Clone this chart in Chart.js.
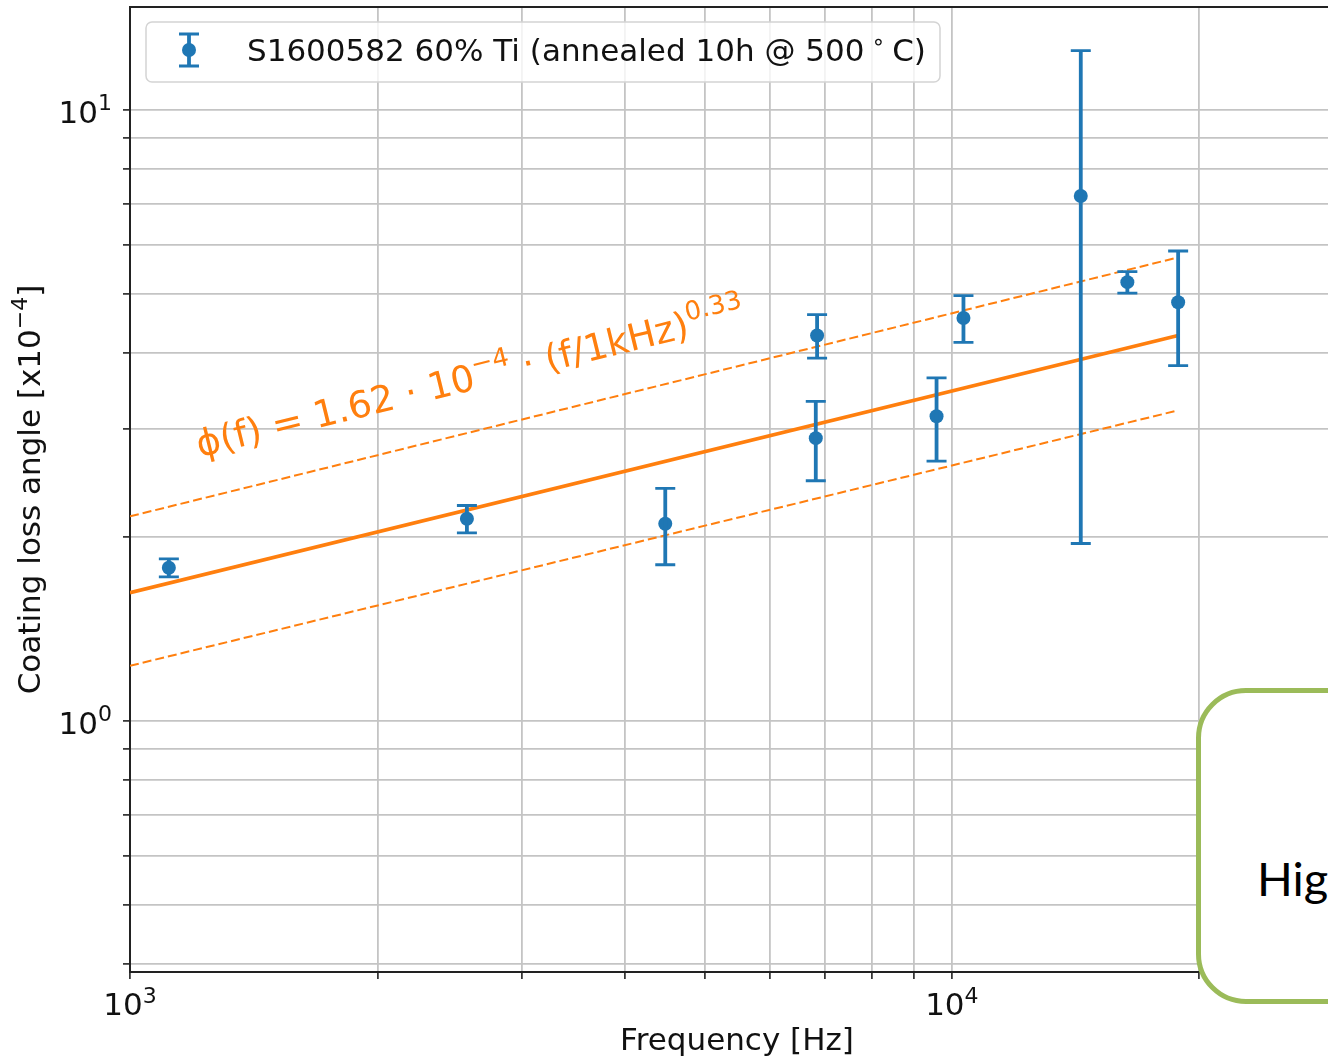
<!DOCTYPE html>
<html>
<head>
<meta charset="utf-8">
<title>Coating loss angle vs frequency</title>
<script src="https://cdn.jsdelivr.net/npm/chart.js@4.4.1/dist/chart.umd.min.js"></script>
<style>
  html, body { margin: 0; padding: 0; background: #fff; overflow: hidden; }
  #wrap { position: relative; width: 1328px; height: 1056px; overflow: hidden; }
  #lossChart { position: absolute; left: 0; top: 0; }
  .callout {
    position: absolute; left: 1196px; top: 688px; width: 320px; height: 316px;
    box-sizing: border-box; border: 5px solid #9bbb59; border-radius: 50px;
    background: #fff; font-family: Lato, "Open Sans", sans-serif; font-size: 47px; color: #000;
  }
  .callout span { position: absolute; left: 56px; top: 162px; line-height: 47px; white-space: nowrap; }
</style>
</head>
<body>
<div id="wrap">
  <canvas id="lossChart" width="1360" height="1056"></canvas>
  <div class="callout"><span>Hig</span></div>
</div>
<script>
// measured loss angles (x1e-4) with 1-sigma errors
const freqHz    = [1115, 2570, 4480, 6855, 6830, 9580, 10330, 14350, 16350, 18850];
const lossAngle = [1.78, 2.14, 2.10, 4.27, 2.90, 3.15, 4.56, 7.22, 5.22, 4.84];
const lossErr   = [0.06, 0.11, 0.30, 0.35, 0.43, 0.49, 0.40, 5.27, 0.21, 1.03];

// power-law fit phi(f) = 1.62e-4 * (f/1kHz)^0.33 and its band
const fitAmp = 1.62;
const fitExp = 0.33;
const fitFreq   = [1000, 18850];
const bandUpper = [2.16, 5.73];
const bandLower = [1.23, 3.22];

const xTicks = [1000, 2000, 3000, 4000, 5000, 6000, 7000, 8000, 9000, 10000, 20000, 30000];
const yTicks = [0.4, 0.5, 0.6, 0.7, 0.8, 0.9, 1, 2, 3, 4, 5, 6, 7, 8, 9, 10];
const xDecades = [[1000, '3'], [10000, '4']];
const yDecades = [[1, '0'], [10, '1']];

const BLUE = '#1f77b4';
const ORANGE = '#ff7f0e';
const INK = '#111';
const FONT = '"DejaVu Sans"';

const fitLoss = fitFreq.map(f => fitAmp * Math.pow(f / 1000, fitExp));

// draws a run of text pieces, some of them raised as exponents
function drawRun(ctx, parts, x, y, align) {
  let total = 0;
  parts.forEach(p => {
    ctx.font = p.size + 'px ' + FONT;
    p.w = ctx.measureText(p.text).width;
    total += p.w;
  });
  let cx = align === 'center' ? x - total / 2 : align === 'right' ? x - total : x;
  ctx.textAlign = 'left';
  ctx.textBaseline = 'alphabetic';
  parts.forEach(p => {
    ctx.font = p.size + 'px ' + FONT;
    ctx.fillText(p.text, cx, y - (p.rise || 0));
    cx += p.w;
  });
  return total;
}

const errorBars = {
  id: 'errorBars',
  afterDatasetsDraw(chart) {
    const { ctx, scales: { x, y } } = chart;
    ctx.save();
    ctx.strokeStyle = BLUE;
    freqHz.forEach((f, i) => {
      const px = x.getPixelForValue(f);
      const top = y.getPixelForValue(lossAngle[i] + lossErr[i]);
      const bot = y.getPixelForValue(lossAngle[i] - lossErr[i]);
      ctx.lineWidth = 3.8;
      ctx.beginPath();
      ctx.moveTo(px, top);
      ctx.lineTo(px, bot);
      ctx.stroke();
      ctx.lineWidth = 2.8;
      ctx.beginPath();
      ctx.moveTo(px - 10, top); ctx.lineTo(px + 10, top);
      ctx.moveTo(px - 10, bot); ctx.lineTo(px + 10, bot);
      ctx.stroke();
    });
    ctx.restore();
  }
};

const decorations = {
  id: 'decorations',
  afterDraw(chart) {
    const { ctx, chartArea: area, scales: { x, y } } = chart;
    ctx.save();

    // top spine
    ctx.strokeStyle = '#222';
    ctx.lineWidth = 2;
    ctx.beginPath();
    ctx.moveTo(area.left - 1, area.top);
    ctx.lineTo(area.right, area.top);
    ctx.stroke();

    ctx.fillStyle = INK;
    // decade tick labels
    xDecades.forEach(([v, e]) => {
      drawRun(ctx, [{ text: '10', size: 31 }, { text: e, size: 22, rise: 12 }],
        x.getPixelForValue(v), area.bottom + 43, 'center');
    });
    yDecades.forEach(([v, e]) => {
      const py = y.getPixelForValue(v);
      drawRun(ctx, [{ text: '10', size: 31 }, { text: e, size: 22, rise: 13 }],
        area.left - 18, py + 13, 'right');
    });

    // axis titles
    drawRun(ctx, [{ text: 'Frequency [Hz]', size: 31 }], (area.left + area.right) / 2, 1050, 'center');
    ctx.save();
    ctx.translate(40, (area.top + area.bottom) / 2);
    ctx.rotate(-Math.PI / 2);
    drawRun(ctx, [
      { text: 'Coating loss angle [x10', size: 31 },
      { text: '\u22124', size: 22, rise: 13 },
      { text: ']', size: 31 }
    ], 0, 0, 'center');
    ctx.restore();

    // fit formula, laid along the fit line
    const x0 = x.getPixelForValue(fitFreq[0]), y0 = y.getPixelForValue(fitLoss[0]);
    const x1 = x.getPixelForValue(fitFreq[1]), y1 = y.getPixelForValue(fitLoss[1]);
    ctx.save();
    ctx.fillStyle = ORANGE;
    ctx.translate(x.getPixelForValue(1215), y.getPixelForValue(2.70));
    ctx.rotate(Math.atan2(y1 - y0, x1 - x0));
    drawRun(ctx, [
      { text: '\u03d5(f) = 1.62 \u00b7 10', size: 37 },
      { text: '\u22124', size: 26, rise: 16 },
      { text: ' \u00b7 (f/1kHz)', size: 37 },
      { text: '0.33', size: 26, rise: 16 }
    ], 0, 0, 'left');
    ctx.restore();

    // legend box
    const lx = area.left + 16, ly = area.top + 15, lw = 794, lh = 60;
    ctx.beginPath();
    ctx.roundRect(lx, ly, lw, lh, 6);
    ctx.fillStyle = 'rgba(255,255,255,0.8)';
    ctx.fill();
    ctx.strokeStyle = '#d4d4d4';
    ctx.lineWidth = 1.5;
    ctx.stroke();
    const sx = lx + 43, sy = ly + 28;
    ctx.strokeStyle = BLUE;
    ctx.lineWidth = 3.8;
    ctx.beginPath(); ctx.moveTo(sx, sy - 16); ctx.lineTo(sx, sy + 16); ctx.stroke();
    ctx.lineWidth = 2.8;
    ctx.beginPath();
    ctx.moveTo(sx - 10, sy - 16); ctx.lineTo(sx + 10, sy - 16);
    ctx.moveTo(sx - 10, sy + 16); ctx.lineTo(sx + 10, sy + 16);
    ctx.stroke();
    ctx.fillStyle = BLUE;
    ctx.beginPath(); ctx.arc(sx, sy, 7, 0, Math.PI * 2); ctx.fill();
    ctx.fillStyle = INK;
    drawRun(ctx, [
      { text: 'S1600582 60% Ti (annealed 10h @ 500', size: 31 },
      { text: ' \u2218 ', size: 22, rise: 12 },
      { text: 'C)', size: 31 }
    ], lx + 101, sy + 11, 'left');

    ctx.restore();
  }
};

const gridOpts = { color: '#c4c4c4', lineWidth: 1.8, drawTicks: true, tickLength: 7, tickColor: '#222', tickWidth: 1.6 };

new Chart(document.getElementById('lossChart'), {
  type: 'scatter',
  data: {
    datasets: [
      {
        label: 'S1600582 60% Ti (annealed 10h @ 500 °C)',
        data: freqHz.map((f, i) => ({ x: f, y: lossAngle[i] })),
        pointRadius: 7,
        pointBackgroundColor: BLUE,
        pointBorderWidth: 0
      },
      {
        label: 'fit',
        data: fitFreq.map((f, i) => ({ x: f, y: fitLoss[i] })),
        showLine: true, borderColor: ORANGE, borderWidth: 3.8, pointRadius: 0
      },
      {
        label: 'upper',
        data: fitFreq.map((f, i) => ({ x: f, y: bandUpper[i] })),
        showLine: true, borderColor: ORANGE, borderWidth: 2, borderDash: [9, 4], pointRadius: 0
      },
      {
        label: 'lower',
        data: fitFreq.map((f, i) => ({ x: f, y: bandLower[i] })),
        showLine: true, borderColor: ORANGE, borderWidth: 2, borderDash: [9, 4], pointRadius: 0
      }
    ]
  },
  options: {
    responsive: false,
    animation: false,
    devicePixelRatio: 1,
    layout: { padding: { top: 5, right: 16, left: 0, bottom: 0 } },
    plugins: { legend: { display: false }, tooltip: { enabled: false } },
    scales: {
      x: {
        type: 'logarithmic', min: 1000, max: 30000,
        afterBuildTicks: s => { s.ticks = xTicks.map(v => ({ value: v })); },
        afterFit: s => { s.height = 84; },
        ticks: { display: false },
        grid: gridOpts,
        border: { display: true, color: '#222', width: 2 }
      },
      y: {
        type: 'logarithmic', min: 0.388, max: 14.72,
        afterBuildTicks: s => { s.ticks = yTicks.map(v => ({ value: v })); },
        afterFit: s => { s.width = 130; },
        ticks: { display: false },
        grid: gridOpts,
        border: { display: true, color: '#222', width: 2 }
      }
    }
  },
  plugins: [errorBars, decorations]
});
</script>
</body>
</html>
